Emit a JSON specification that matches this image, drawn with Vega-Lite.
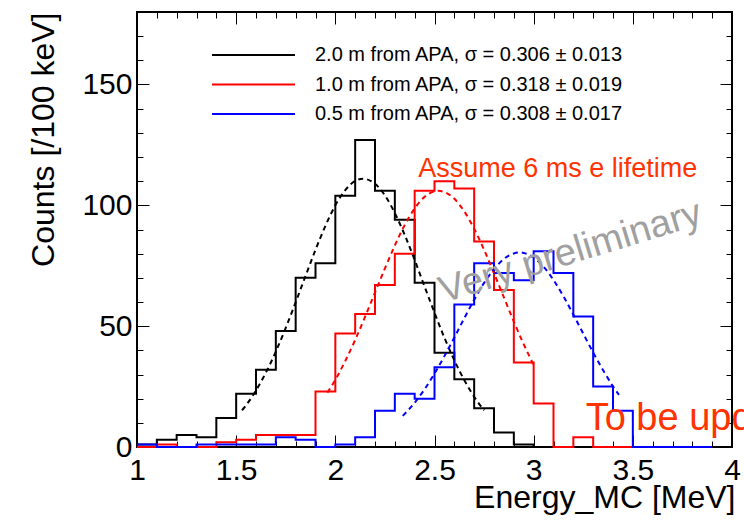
{
  "$schema": "https://vega.github.io/schema/vega-lite/v6.json",
  "width": 595,
  "height": 435,
  "autosize": {"type": "none"},
  "padding": {"left": 137, "top": 12, "right": 12, "bottom": 74},
  "background": "white",
  "title": {"text": "Energy", "anchor": "start", "frame": "group", "dx": 93, "offset": 13, "baseline": "alphabetic", "fontSize": 32, "fontWeight": "normal", "font": "Liberation Sans", "color": "black"},
  "config": {
    "view": {"stroke": "black", "strokeWidth": 2},
    "axis": {"grid": false, "domain": false, "tickColor": "black", "tickWidth": 1, "labelFont": "Liberation Sans", "labelFontSize": 30, "labelColor": "black", "labelFlush": false, "labelOverlap": false, "titleFont": "Liberation Sans", "titleFontSize": 32, "titleFontWeight": "normal", "titleColor": "black"},
    "text": {"font": "Liberation Sans"}
  },
  "datasets": {
    "hist": [
      {"s": "2.0 m from APA, σ = 0.306 ± 0.013", "e": 1.0, "n": 1},
      {"s": "2.0 m from APA, σ = 0.306 ± 0.013", "e": 1.1, "n": 3},
      {"s": "2.0 m from APA, σ = 0.306 ± 0.013", "e": 1.2, "n": 5},
      {"s": "2.0 m from APA, σ = 0.306 ± 0.013", "e": 1.3, "n": 4},
      {"s": "2.0 m from APA, σ = 0.306 ± 0.013", "e": 1.4, "n": 12},
      {"s": "2.0 m from APA, σ = 0.306 ± 0.013", "e": 1.5, "n": 22},
      {"s": "2.0 m from APA, σ = 0.306 ± 0.013", "e": 1.6, "n": 32},
      {"s": "2.0 m from APA, σ = 0.306 ± 0.013", "e": 1.7, "n": 48},
      {"s": "2.0 m from APA, σ = 0.306 ± 0.013", "e": 1.8, "n": 70},
      {"s": "2.0 m from APA, σ = 0.306 ± 0.013", "e": 1.9, "n": 76},
      {"s": "2.0 m from APA, σ = 0.306 ± 0.013", "e": 2.0, "n": 104},
      {"s": "2.0 m from APA, σ = 0.306 ± 0.013", "e": 2.1, "n": 127},
      {"s": "2.0 m from APA, σ = 0.306 ± 0.013", "e": 2.2, "n": 106},
      {"s": "2.0 m from APA, σ = 0.306 ± 0.013", "e": 2.3, "n": 94},
      {"s": "2.0 m from APA, σ = 0.306 ± 0.013", "e": 2.4, "n": 68},
      {"s": "2.0 m from APA, σ = 0.306 ± 0.013", "e": 2.5, "n": 39},
      {"s": "2.0 m from APA, σ = 0.306 ± 0.013", "e": 2.6, "n": 28},
      {"s": "2.0 m from APA, σ = 0.306 ± 0.013", "e": 2.7, "n": 16},
      {"s": "2.0 m from APA, σ = 0.306 ± 0.013", "e": 2.8, "n": 6},
      {"s": "2.0 m from APA, σ = 0.306 ± 0.013", "e": 2.9, "n": 1},
      {"s": "2.0 m from APA, σ = 0.306 ± 0.013", "e": 3.0, "n": 0},
      {"s": "2.0 m from APA, σ = 0.306 ± 0.013", "e": 3.1, "n": 0},
      {"s": "2.0 m from APA, σ = 0.306 ± 0.013", "e": 3.2, "n": 0},
      {"s": "2.0 m from APA, σ = 0.306 ± 0.013", "e": 3.3, "n": 0},
      {"s": "2.0 m from APA, σ = 0.306 ± 0.013", "e": 3.4, "n": 0},
      {"s": "2.0 m from APA, σ = 0.306 ± 0.013", "e": 3.5, "n": 0},
      {"s": "2.0 m from APA, σ = 0.306 ± 0.013", "e": 3.6, "n": 0},
      {"s": "2.0 m from APA, σ = 0.306 ± 0.013", "e": 3.7, "n": 0},
      {"s": "2.0 m from APA, σ = 0.306 ± 0.013", "e": 3.8, "n": 0},
      {"s": "2.0 m from APA, σ = 0.306 ± 0.013", "e": 3.9, "n": 0},
      {"s": "1.0 m from APA, σ = 0.318 ± 0.019", "e": 1.0, "n": 0},
      {"s": "1.0 m from APA, σ = 0.318 ± 0.019", "e": 1.1, "n": 1},
      {"s": "1.0 m from APA, σ = 0.318 ± 0.019", "e": 1.2, "n": 0},
      {"s": "1.0 m from APA, σ = 0.318 ± 0.019", "e": 1.3, "n": 0},
      {"s": "1.0 m from APA, σ = 0.318 ± 0.019", "e": 1.4, "n": 2},
      {"s": "1.0 m from APA, σ = 0.318 ± 0.019", "e": 1.5, "n": 3},
      {"s": "1.0 m from APA, σ = 0.318 ± 0.019", "e": 1.6, "n": 5},
      {"s": "1.0 m from APA, σ = 0.318 ± 0.019", "e": 1.7, "n": 5},
      {"s": "1.0 m from APA, σ = 0.318 ± 0.019", "e": 1.8, "n": 5},
      {"s": "1.0 m from APA, σ = 0.318 ± 0.019", "e": 1.9, "n": 23},
      {"s": "1.0 m from APA, σ = 0.318 ± 0.019", "e": 2.0, "n": 47},
      {"s": "1.0 m from APA, σ = 0.318 ± 0.019", "e": 2.1, "n": 55},
      {"s": "1.0 m from APA, σ = 0.318 ± 0.019", "e": 2.2, "n": 67},
      {"s": "1.0 m from APA, σ = 0.318 ± 0.019", "e": 2.3, "n": 80},
      {"s": "1.0 m from APA, σ = 0.318 ± 0.019", "e": 2.4, "n": 106},
      {"s": "1.0 m from APA, σ = 0.318 ± 0.019", "e": 2.5, "n": 110},
      {"s": "1.0 m from APA, σ = 0.318 ± 0.019", "e": 2.6, "n": 107},
      {"s": "1.0 m from APA, σ = 0.318 ± 0.019", "e": 2.7, "n": 85},
      {"s": "1.0 m from APA, σ = 0.318 ± 0.019", "e": 2.8, "n": 65},
      {"s": "1.0 m from APA, σ = 0.318 ± 0.019", "e": 2.9, "n": 35},
      {"s": "1.0 m from APA, σ = 0.318 ± 0.019", "e": 3.0, "n": 18},
      {"s": "1.0 m from APA, σ = 0.318 ± 0.019", "e": 3.1, "n": 0},
      {"s": "1.0 m from APA, σ = 0.318 ± 0.019", "e": 3.2, "n": 4},
      {"s": "1.0 m from APA, σ = 0.318 ± 0.019", "e": 3.3, "n": 0},
      {"s": "1.0 m from APA, σ = 0.318 ± 0.019", "e": 3.4, "n": 0},
      {"s": "1.0 m from APA, σ = 0.318 ± 0.019", "e": 3.5, "n": 0},
      {"s": "1.0 m from APA, σ = 0.318 ± 0.019", "e": 3.6, "n": 0},
      {"s": "1.0 m from APA, σ = 0.318 ± 0.019", "e": 3.7, "n": 0},
      {"s": "1.0 m from APA, σ = 0.318 ± 0.019", "e": 3.8, "n": 0},
      {"s": "1.0 m from APA, σ = 0.318 ± 0.019", "e": 3.9, "n": 0},
      {"s": "0.5 m from APA, σ = 0.308 ± 0.017", "e": 1.0, "n": 1},
      {"s": "0.5 m from APA, σ = 0.308 ± 0.017", "e": 1.1, "n": 0},
      {"s": "0.5 m from APA, σ = 0.308 ± 0.017", "e": 1.2, "n": 0},
      {"s": "0.5 m from APA, σ = 0.308 ± 0.017", "e": 1.3, "n": 1},
      {"s": "0.5 m from APA, σ = 0.308 ± 0.017", "e": 1.4, "n": 1},
      {"s": "0.5 m from APA, σ = 0.308 ± 0.017", "e": 1.5, "n": 1},
      {"s": "0.5 m from APA, σ = 0.308 ± 0.017", "e": 1.6, "n": 1},
      {"s": "0.5 m from APA, σ = 0.308 ± 0.017", "e": 1.7, "n": 4},
      {"s": "0.5 m from APA, σ = 0.308 ± 0.017", "e": 1.8, "n": 3},
      {"s": "0.5 m from APA, σ = 0.308 ± 0.017", "e": 1.9, "n": 0},
      {"s": "0.5 m from APA, σ = 0.308 ± 0.017", "e": 2.0, "n": 1},
      {"s": "0.5 m from APA, σ = 0.308 ± 0.017", "e": 2.1, "n": 4},
      {"s": "0.5 m from APA, σ = 0.308 ± 0.017", "e": 2.2, "n": 15},
      {"s": "0.5 m from APA, σ = 0.308 ± 0.017", "e": 2.3, "n": 22},
      {"s": "0.5 m from APA, σ = 0.308 ± 0.017", "e": 2.4, "n": 20},
      {"s": "0.5 m from APA, σ = 0.308 ± 0.017", "e": 2.5, "n": 33},
      {"s": "0.5 m from APA, σ = 0.308 ± 0.017", "e": 2.6, "n": 59},
      {"s": "0.5 m from APA, σ = 0.308 ± 0.017", "e": 2.7, "n": 76},
      {"s": "0.5 m from APA, σ = 0.308 ± 0.017", "e": 2.8, "n": 72},
      {"s": "0.5 m from APA, σ = 0.308 ± 0.017", "e": 2.9, "n": 69},
      {"s": "0.5 m from APA, σ = 0.308 ± 0.017", "e": 3.0, "n": 81},
      {"s": "0.5 m from APA, σ = 0.308 ± 0.017", "e": 3.1, "n": 72},
      {"s": "0.5 m from APA, σ = 0.308 ± 0.017", "e": 3.2, "n": 54},
      {"s": "0.5 m from APA, σ = 0.308 ± 0.017", "e": 3.3, "n": 25},
      {"s": "0.5 m from APA, σ = 0.308 ± 0.017", "e": 3.4, "n": 15},
      {"s": "0.5 m from APA, σ = 0.308 ± 0.017", "e": 3.5, "n": 0},
      {"s": "0.5 m from APA, σ = 0.308 ± 0.017", "e": 3.6, "n": 0},
      {"s": "0.5 m from APA, σ = 0.308 ± 0.017", "e": 3.7, "n": 0},
      {"s": "0.5 m from APA, σ = 0.308 ± 0.017", "e": 3.8, "n": 0},
      {"s": "0.5 m from APA, σ = 0.308 ± 0.017", "e": 3.9, "n": 0}
    ],
    "fits": [
      {"s": "2.0 m from APA, σ = 0.306 ± 0.013", "e": 1.53, "f": 15.2},
      {"s": "2.0 m from APA, σ = 0.306 ± 0.013", "e": 1.55, "f": 17.3},
      {"s": "2.0 m from APA, σ = 0.306 ± 0.013", "e": 1.6, "f": 23.4},
      {"s": "2.0 m from APA, σ = 0.306 ± 0.013", "e": 1.65, "f": 30.8},
      {"s": "2.0 m from APA, σ = 0.306 ± 0.013", "e": 1.7, "f": 39.5},
      {"s": "2.0 m from APA, σ = 0.306 ± 0.013", "e": 1.75, "f": 49.3},
      {"s": "2.0 m from APA, σ = 0.306 ± 0.013", "e": 1.8, "f": 59.9},
      {"s": "2.0 m from APA, σ = 0.306 ± 0.013", "e": 1.85, "f": 70.8},
      {"s": "2.0 m from APA, σ = 0.306 ± 0.013", "e": 1.9, "f": 81.6},
      {"s": "2.0 m from APA, σ = 0.306 ± 0.013", "e": 1.95, "f": 91.5},
      {"s": "2.0 m from APA, σ = 0.306 ± 0.013", "e": 2.0, "f": 100.0},
      {"s": "2.0 m from APA, σ = 0.306 ± 0.013", "e": 2.05, "f": 106.3},
      {"s": "2.0 m from APA, σ = 0.306 ± 0.013", "e": 2.1, "f": 110.1},
      {"s": "2.0 m from APA, σ = 0.306 ± 0.013", "e": 2.14, "f": 111.0},
      {"s": "2.0 m from APA, σ = 0.306 ± 0.013", "e": 2.2, "f": 108.9},
      {"s": "2.0 m from APA, σ = 0.306 ± 0.013", "e": 2.25, "f": 104.1},
      {"s": "2.0 m from APA, σ = 0.306 ± 0.013", "e": 2.3, "f": 96.8},
      {"s": "2.0 m from APA, σ = 0.306 ± 0.013", "e": 2.35, "f": 87.7},
      {"s": "2.0 m from APA, σ = 0.306 ± 0.013", "e": 2.4, "f": 77.4},
      {"s": "2.0 m from APA, σ = 0.306 ± 0.013", "e": 2.45, "f": 66.4},
      {"s": "2.0 m from APA, σ = 0.306 ± 0.013", "e": 2.5, "f": 55.6},
      {"s": "2.0 m from APA, σ = 0.306 ± 0.013", "e": 2.55, "f": 45.2},
      {"s": "2.0 m from APA, σ = 0.306 ± 0.013", "e": 2.6, "f": 35.9},
      {"s": "2.0 m from APA, σ = 0.306 ± 0.013", "e": 2.65, "f": 27.7},
      {"s": "2.0 m from APA, σ = 0.306 ± 0.013", "e": 2.7, "f": 20.8},
      {"s": "2.0 m from APA, σ = 0.306 ± 0.013", "e": 2.75, "f": 15.2},
      {"s": "1.0 m from APA, σ = 0.318 ± 0.019", "e": 1.96, "f": 22.5},
      {"s": "1.0 m from APA, σ = 0.318 ± 0.019", "e": 2.0, "f": 27.8},
      {"s": "1.0 m from APA, σ = 0.318 ± 0.019", "e": 2.05, "f": 35.6},
      {"s": "1.0 m from APA, σ = 0.318 ± 0.019", "e": 2.1, "f": 44.3},
      {"s": "1.0 m from APA, σ = 0.318 ± 0.019", "e": 2.15, "f": 53.9},
      {"s": "1.0 m from APA, σ = 0.318 ± 0.019", "e": 2.2, "f": 63.9},
      {"s": "1.0 m from APA, σ = 0.318 ± 0.019", "e": 2.25, "f": 73.9},
      {"s": "1.0 m from APA, σ = 0.318 ± 0.019", "e": 2.3, "f": 83.4},
      {"s": "1.0 m from APA, σ = 0.318 ± 0.019", "e": 2.35, "f": 91.9},
      {"s": "1.0 m from APA, σ = 0.318 ± 0.019", "e": 2.4, "f": 98.7},
      {"s": "1.0 m from APA, σ = 0.318 ± 0.019", "e": 2.45, "f": 103.5},
      {"s": "1.0 m from APA, σ = 0.318 ± 0.019", "e": 2.5, "f": 105.8},
      {"s": "1.0 m from APA, σ = 0.318 ± 0.019", "e": 2.52, "f": 106.0},
      {"s": "1.0 m from APA, σ = 0.318 ± 0.019", "e": 2.55, "f": 105.5},
      {"s": "1.0 m from APA, σ = 0.318 ± 0.019", "e": 2.6, "f": 102.7},
      {"s": "1.0 m from APA, σ = 0.318 ± 0.019", "e": 2.65, "f": 97.5},
      {"s": "1.0 m from APA, σ = 0.318 ± 0.019", "e": 2.7, "f": 90.3},
      {"s": "1.0 m from APA, σ = 0.318 ± 0.019", "e": 2.75, "f": 81.6},
      {"s": "1.0 m from APA, σ = 0.318 ± 0.019", "e": 2.8, "f": 71.9},
      {"s": "1.0 m from APA, σ = 0.318 ± 0.019", "e": 2.85, "f": 61.9},
      {"s": "1.0 m from APA, σ = 0.318 ± 0.019", "e": 2.9, "f": 51.9},
      {"s": "1.0 m from APA, σ = 0.318 ± 0.019", "e": 2.95, "f": 42.5},
      {"s": "1.0 m from APA, σ = 0.318 ± 0.019", "e": 3.0, "f": 33.9},
      {"s": "0.5 m from APA, σ = 0.308 ± 0.017", "e": 2.34, "f": 12.9},
      {"s": "0.5 m from APA, σ = 0.308 ± 0.017", "e": 2.4, "f": 18.3},
      {"s": "0.5 m from APA, σ = 0.308 ± 0.017", "e": 2.45, "f": 23.9},
      {"s": "0.5 m from APA, σ = 0.308 ± 0.017", "e": 2.5, "f": 30.4},
      {"s": "0.5 m from APA, σ = 0.308 ± 0.017", "e": 2.55, "f": 37.6},
      {"s": "0.5 m from APA, σ = 0.308 ± 0.017", "e": 2.6, "f": 45.3},
      {"s": "0.5 m from APA, σ = 0.308 ± 0.017", "e": 2.65, "f": 53.3},
      {"s": "0.5 m from APA, σ = 0.308 ± 0.017", "e": 2.7, "f": 60.9},
      {"s": "0.5 m from APA, σ = 0.308 ± 0.017", "e": 2.75, "f": 67.9},
      {"s": "0.5 m from APA, σ = 0.308 ± 0.017", "e": 2.8, "f": 73.6},
      {"s": "0.5 m from APA, σ = 0.308 ± 0.017", "e": 2.85, "f": 77.8},
      {"s": "0.5 m from APA, σ = 0.308 ± 0.017", "e": 2.9, "f": 80.1},
      {"s": "0.5 m from APA, σ = 0.308 ± 0.017", "e": 2.93, "f": 80.5},
      {"s": "0.5 m from APA, σ = 0.308 ± 0.017", "e": 2.95, "f": 80.3},
      {"s": "0.5 m from APA, σ = 0.308 ± 0.017", "e": 3.0, "f": 78.4},
      {"s": "0.5 m from APA, σ = 0.308 ± 0.017", "e": 3.05, "f": 74.6},
      {"s": "0.5 m from APA, σ = 0.308 ± 0.017", "e": 3.1, "f": 69.1},
      {"s": "0.5 m from APA, σ = 0.308 ± 0.017", "e": 3.15, "f": 62.4},
      {"s": "0.5 m from APA, σ = 0.308 ± 0.017", "e": 3.2, "f": 54.8},
      {"s": "0.5 m from APA, σ = 0.308 ± 0.017", "e": 3.25, "f": 46.9},
      {"s": "0.5 m from APA, σ = 0.308 ± 0.017", "e": 3.3, "f": 39.1},
      {"s": "0.5 m from APA, σ = 0.308 ± 0.017", "e": 3.35, "f": 31.8},
      {"s": "0.5 m from APA, σ = 0.308 ± 0.017", "e": 3.4, "f": 25.1},
      {"s": "0.5 m from APA, σ = 0.308 ± 0.017", "e": 3.43, "f": 21.6}
    ]
  },
  "resolve": {"axis": {"x": "independent", "y": "independent"}},
  "layer": [
    {
      "data": {"name": "hist"},
      "mark": {"type": "line", "interpolate": "step-after", "strokeWidth": 2},
      "encoding": {
        "x": {"field": "e", "type": "quantitative", "scale": {"domain": [1, 4], "nice": false, "zero": false},
          "axis": {"orient": "bottom", "values": [1, 1.5, 2, 2.5, 3, 3.5, 4], "format": "~r", "tickSize": -12, "labelPadding": 20, "title": "Energy_MC [MeV]", "titleX": 598, "titleY": 60, "titleAlign": "right", "titleBaseline": "alphabetic", "titleAngle": 0}},
        "y": {"field": "n", "type": "quantitative", "scale": {"domain": [0, 180], "nice": false, "zero": true},
          "axis": {"orient": "left", "values": [0, 50, 100, 150], "format": "d", "tickSize": -12, "labelPadding": 17, "title": "Counts [/100 keV]", "titleX": -84, "titleY": 0, "titleAngle": -90, "titleAlign": "right", "titleBaseline": "alphabetic"}},
        "color": {"field": "s", "type": "nominal",
          "scale": {"domain": ["2.0 m from APA, σ = 0.306 ± 0.013", "1.0 m from APA, σ = 0.318 ± 0.019", "0.5 m from APA, σ = 0.308 ± 0.017"], "range": ["#000000", "#ff0000", "#0000ff"]},
          "legend": {"orient": "none", "legendX": 74, "legendY": 33, "title": null, "symbolType": "stroke", "symbolSize": 6889, "symbolStrokeWidth": 2, "clipHeight": 20, "rowPadding": 9.5, "labelOffset": 19, "labelFontSize": 20, "labelFont": "Liberation Sans", "labelColor": "black", "labelLimit": 0, "padding": 0}}
      }
    },
    {
      "data": {"name": "fits"},
      "mark": {"type": "line", "interpolate": "monotone", "strokeWidth": 2, "strokeDash": [5, 4]},
      "encoding": {
        "x": {"field": "e", "type": "quantitative",
          "axis": {"orient": "bottom", "values": [1, 1.1, 1.2, 1.3, 1.4, 1.5, 1.6, 1.7, 1.8, 1.9, 2, 2.1, 2.2, 2.3, 2.4, 2.5, 2.6, 2.7, 2.8, 2.9, 3, 3.1, 3.2, 3.3, 3.4, 3.5, 3.6, 3.7, 3.8, 3.9, 4], "tickSize": -6, "labels": false, "title": null}},
        "y": {"field": "f", "type": "quantitative",
          "axis": {"orient": "left", "values": [0, 10, 20, 30, 40, 50, 60, 70, 80, 90, 100, 110, 120, 130, 140, 150, 160, 170, 180], "tickSize": -6, "labels": false, "title": null}},
        "color": {"field": "s", "type": "nominal"}
      }
    },
    {
      "data": {"values": [{"note": "Assume 6 ms e lifetime"}]},
      "mark": {"type": "text", "align": "left", "baseline": "alphabetic", "fontSize": 27, "color": "#ff3300", "font": "Liberation Sans"},
      "encoding": {
        "x": {"datum": 2.418, "type": "quantitative",
          "axis": {"orient": "top", "values": [1, 1.5, 2, 2.5, 3, 3.5, 4], "tickSize": -12, "labels": false, "title": null}},
        "y": {"datum": 111.6, "type": "quantitative",
          "axis": {"orient": "right", "values": [0, 50, 100, 150], "tickSize": -12, "labels": false, "title": null}},
        "text": {"field": "note"}
      }
    },
    {
      "data": {"values": [{"note": "Very preliminary"}]},
      "mark": {"type": "text", "align": "left", "baseline": "alphabetic", "fontSize": 38, "angle": -17, "color": "#a0a0a0", "font": "Liberation Sans"},
      "encoding": {
        "x": {"datum": 2.545, "type": "quantitative",
          "axis": {"orient": "top", "values": [1, 1.1, 1.2, 1.3, 1.4, 1.5, 1.6, 1.7, 1.8, 1.9, 2, 2.1, 2.2, 2.3, 2.4, 2.5, 2.6, 2.7, 2.8, 2.9, 3, 3.1, 3.2, 3.3, 3.4, 3.5, 3.6, 3.7, 3.8, 3.9, 4], "tickSize": -6, "labels": false, "title": null}},
        "y": {"datum": 59.6, "type": "quantitative",
          "axis": {"orient": "right", "values": [0, 10, 20, 30, 40, 50, 60, 70, 80, 90, 100, 110, 120, 130, 140, 150, 160, 170, 180], "tickSize": -6, "labels": false, "title": null}},
        "text": {"field": "note"}
      }
    },
    {
      "data": {"values": [{"note": "To be updated"}]},
      "mark": {"type": "text", "align": "left", "baseline": "alphabetic", "fontSize": 38, "color": "#ff3300", "font": "Liberation Sans"},
      "encoding": {
        "x": {"datum": 3.262, "type": "quantitative", "axis": null},
        "y": {"datum": 7.0, "type": "quantitative", "axis": null},
        "text": {"field": "note"}
      }
    }
  ]
}
